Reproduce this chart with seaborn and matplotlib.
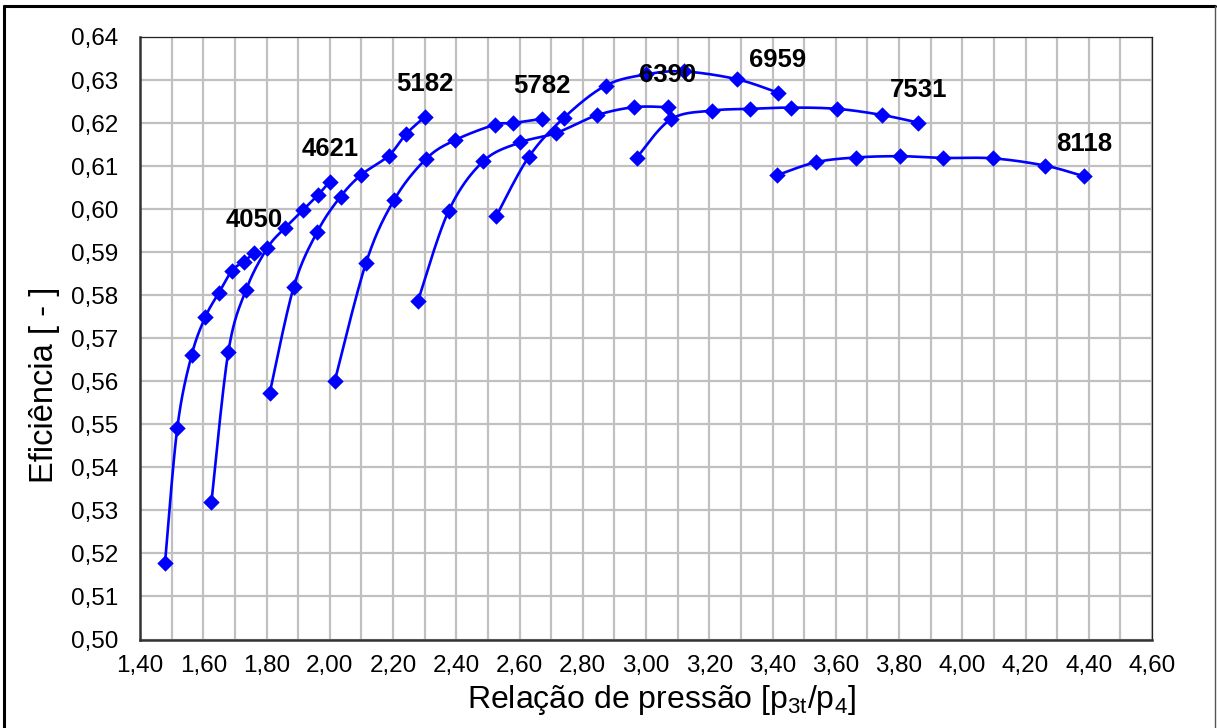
import numpy as np
import pandas as pd
import matplotlib
matplotlib.use("Agg")
import matplotlib.pyplot as plt
import seaborn as sns
from matplotlib.ticker import MultipleLocator, FuncFormatter
from matplotlib.lines import Line2D

# ---------------- data ----------------
speeds = ["4050", "4621", "5182", "5782", "6390", "6959", "7531", "8118"]

x_4050 = [1.479, 1.518, 1.563, 1.607, 1.649, 1.691, 1.728, 1.761]
y_4050 = [0.5177, 0.5492, 0.5660, 0.5750, 0.5805, 0.5857, 0.5878, 0.5898]

x_4621 = [1.626, 1.679, 1.735, 1.802, 1.858, 1.914, 1.963, 2.000]
y_4621 = [0.5320, 0.5667, 0.5812, 0.5909, 0.5956, 0.5997, 0.6033, 0.6064]

x_5182 = [1.810, 1.886, 1.961, 2.034, 2.100, 2.186, 2.242, 2.300]
y_5182 = [0.5572, 0.5819, 0.5948, 0.6029, 0.6080, 0.6124, 0.6175, 0.6214]

x_5782 = [2.016, 2.115, 2.204, 2.305, 2.395, 2.521, 2.579, 2.672]
y_5782 = [0.5601, 0.5876, 0.6022, 0.6117, 0.6160, 0.6196, 0.6200, 0.6210]

x_6390 = [2.279, 2.376, 2.485, 2.602, 2.716, 2.844, 2.963, 3.068]
y_6390 = [0.5787, 0.5996, 0.6111, 0.6155, 0.6177, 0.6218, 0.6237, 0.6237]

x_6959 = [2.526, 2.629, 2.740, 2.872, 3.000, 3.120, 3.287, 3.416]
y_6959 = [0.5983, 0.6121, 0.6212, 0.6287, 0.6313, 0.6320, 0.6302, 0.6271]

x_7531 = [2.970, 3.079, 3.210, 3.328, 3.458, 3.605, 3.745, 3.861]
y_7531 = [0.6119, 0.6209, 0.6229, 0.6233, 0.6236, 0.6233, 0.6219, 0.6201]

x_8118 = [3.415, 3.537, 3.663, 3.804, 3.940, 4.098, 4.263, 4.386]
y_8118 = [0.6079, 0.6109, 0.6120, 0.6123, 0.6119, 0.6118, 0.6101, 0.6076]

series_x = [x_4050, x_4621, x_5182, x_5782, x_6390, x_6959, x_7531, x_8118]
series_y = [y_4050, y_4621, y_5182, y_5782, y_6390, y_6959, y_7531, y_8118]

x_label = "Relação de pressão [p$_{3t}$/p$_{4}$]"
y_label = "Eficiência [ - ]"

# ---------------- build tables ----------------
pts = pd.concat(
    [pd.DataFrame({"speed": s, "x": xs, "y": ys}) for s, xs, ys in zip(speeds, series_x, series_y)],
    ignore_index=True,
)


def catmull_rom(xs, ys, n=24):
    """Smoothed drawing path (uniform Catmull-Rom) through the measured points."""
    P = np.column_stack([xs, ys]).astype(float)
    E = np.vstack([P[0], P, P[-1]])
    t = np.linspace(0, 1, n, endpoint=False)[:, None]
    segs = []
    for i in range(1, len(E) - 2):
        p0, p1, p2, p3 = E[i - 1], E[i], E[i + 1], E[i + 2]
        seg = 0.5 * (2 * p1 + (-p0 + p2) * t + (2 * p0 - 5 * p1 + 4 * p2 - p3) * t ** 2
                     + (-p0 + 3 * p1 - 3 * p2 + p3) * t ** 3)
        segs.append(seg)
    segs.append(P[-1:])
    return np.vstack(segs)


curves = []
for s, xs, ys in zip(speeds, series_x, series_y):
    c = catmull_rom(xs, ys)
    curves.append(pd.DataFrame({"speed": s, "x": c[:, 0], "y": c[:, 1]}))
curves = pd.concat(curves, ignore_index=True)

# ---------------- style ----------------
sns.set_style("white")
plt.rcParams["font.family"] = ["Liberation Sans", "DejaVu Sans"]
plt.rcParams["mathtext.default"] = "regular"

W, H = 1217, 728
fig = plt.figure(figsize=(W / 100, H / 100), dpi=100)
fig.patch.set_facecolor("white")
L, R, T, B = 140, 1152, 37, 639.5
ax = fig.add_axes([L / W, 1 - B / H, (R - L) / W, (B - T) / H])

blue = "#0000FF"
sns.lineplot(data=curves, x="x", y="y", units="speed", estimator=None, sort=False,
             color=blue, linewidth=1.9, ax=ax, zorder=3)
sns.scatterplot(data=pts, x="x", y="y", marker="D", color=blue, s=70, linewidth=0,
                ax=ax, zorder=4)

for s, xs, ys in zip(speeds, series_x, series_y):
    ax.annotate(s, (xs[-1], ys[-1]), xytext=(0, 23.5), textcoords="offset points",
                ha="center", va="center", fontsize=18.5, fontweight="bold", color="black",
                zorder=5)

ax.set_xlim(1.40, 4.60)
ax.set_ylim(0.50, 0.64)
ax.xaxis.set_major_locator(MultipleLocator(0.2))
ax.xaxis.set_minor_locator(MultipleLocator(0.1))
ax.yaxis.set_major_locator(MultipleLocator(0.01))
ax.yaxis.set_minor_locator(MultipleLocator(0.005))
fmt = FuncFormatter(lambda v, p: f"{v:.2f}".replace(".", ","))
ax.xaxis.set_major_formatter(fmt)
ax.yaxis.set_major_formatter(fmt)

ax.set_axisbelow(True)
ax.grid(which="both", axis="x", color="#C0C0C0", linewidth=1.6)
ax.grid(which="major", axis="y", color="#C0C0C0", linewidth=1.6)

ax.tick_params(axis="both", which="major", direction="out", length=4.5, width=1,
               color="#333333", labelsize=17.5, labelcolor="black")
ax.tick_params(axis="x", which="major", pad=7)
ax.tick_params(axis="y", which="major", pad=11)
ax.tick_params(axis="x", which="minor", length=0)
ax.tick_params(axis="y", which="minor", direction="out", length=3, width=1, color="#333333")

for side in ["left", "bottom"]:
    ax.spines[side].set_color("#333333")
    ax.spines[side].set_linewidth(1.8)
for side in ["top", "right"]:
    ax.spines[side].set_color("#222222")
    ax.spines[side].set_linewidth(0.9)

ax.set_xlabel(x_label, fontsize=23, color="black")
ax.set_ylabel(y_label, fontsize=23.5, color="black")
ax.xaxis.set_label_coords((661 - L) / (R - L), (B - 700) / (B - T))
ax.xaxis.label.set_va("center")
ax.yaxis.set_label_coords((44 - L) / (R - L), (B - 385) / (B - T))
ax.yaxis.label.set_va("center")

# outer chart frame
fig.add_artist(Line2D([4 / W, 1215 / W], [1 - 6 / H, 1 - 6 / H], color="black", linewidth=2.2,
                      transform=fig.transFigure))
fig.add_artist(Line2D([4 / W, 4 / W], [0, 1 - 6 / H], color="black", linewidth=2.2,
                      transform=fig.transFigure))
fig.add_artist(Line2D([1215 / W, 1215 / W], [0, 1 - 6 / H], color="#555555", linewidth=1.0,
                      transform=fig.transFigure))

fig.savefig("out.png", dpi=100, facecolor="white")
